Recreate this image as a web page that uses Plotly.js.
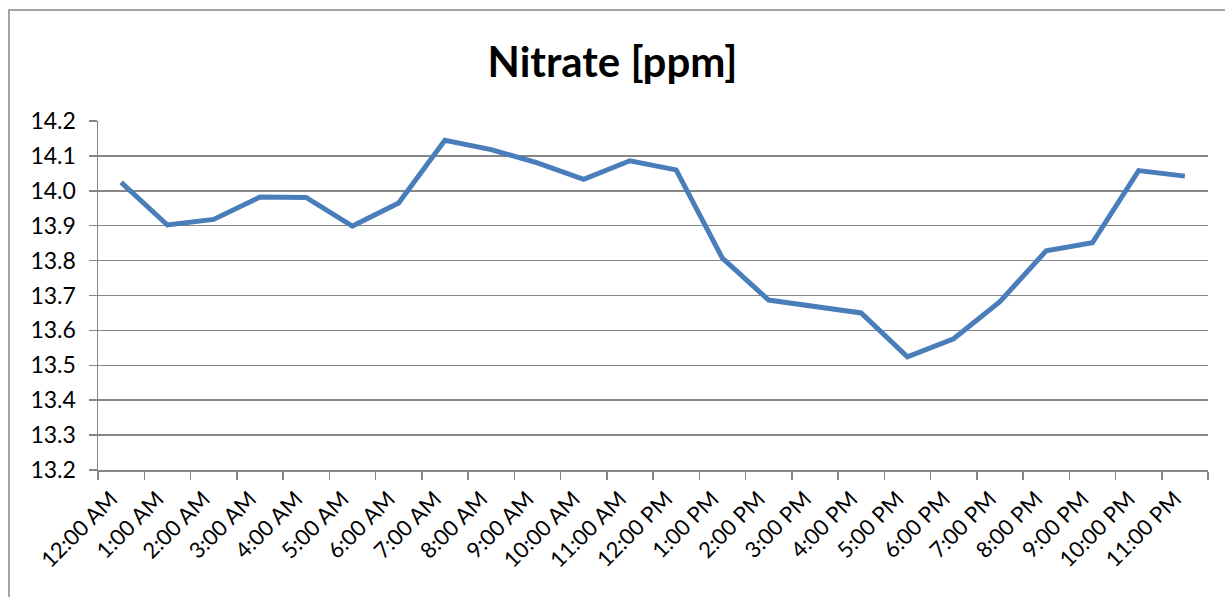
<!DOCTYPE html>
<html>
<head>
<meta charset="utf-8">
<script src="https://cdn.plot.ly/plotly-3.0.1.min.js"></script>
<style>
html, body { margin: 0; padding: 0; background: #ffffff; }
#chart { width: 1225px; height: 597px; }
</style>
</head>
<body>
<div id="chart"></div>
<script>
const hours = ["12:00 AM","1:00 AM","2:00 AM","3:00 AM","4:00 AM","5:00 AM","6:00 AM","7:00 AM","8:00 AM","9:00 AM","10:00 AM","11:00 AM",
               "12:00 PM","1:00 PM","2:00 PM","3:00 PM","4:00 PM","5:00 PM","6:00 PM","7:00 PM","8:00 PM","9:00 PM","10:00 PM","11:00 PM"];
const nitrate = [14.024, 13.902, 13.918, 13.982, 13.981, 13.899, 13.965, 14.145,
                 14.118, 14.080, 14.033, 14.086, 14.060, 13.807, 13.687, 13.667,
                 13.650, 13.524, 13.576, 13.682, 13.828, 13.851, 14.058, 14.042];
const titleText = "Nitrate [ppm]";

const grey = "#868686";
const trace = {
  x: hours,
  y: nitrate,
  type: "scatter",
  mode: "lines",
  line: { color: "#4a7ebb", width: 5 },
  hoverinfo: "x+y"
};

const layout = {
  width: 1225,
  height: 597,
  paper_bgcolor: "#ffffff",
  plot_bgcolor: "#ffffff",
  margin: { l: 98, r: 17, t: 121, b: 127 },
  showlegend: false,
  font: { family: "Lato, 'Open Sans', sans-serif", color: "#000000" },
  title: {
    text: "<b>" + titleText + "</b>",
    font: { family: "Lato, 'Open Sans', sans-serif", size: 42, color: "#000000" },
    x: 0.5, xanchor: "center",
    y: 0.895, yanchor: "middle"
  },
  xaxis: {
    type: "category",
    range: [-0.5, 23.5],
    tickson: "boundaries",
    ticks: "outside",
    ticklen: 8,
    tickwidth: 1.5,
    tickcolor: grey,
    showline: true,
    linecolor: grey,
    linewidth: 1.5,
    showgrid: false,
    tickangle: -45,
    ticklabelshift: -10,
    ticklabelstandoff: 6,
    tickfont: { size: 22, family: "Lato, 'Open Sans', sans-serif", color: "#000000" },
    automargin: false
  },
  yaxis: {
    range: [13.2, 14.2],
    tick0: 13.2,
    dtick: 0.1,
    tickformat: ".1f",
    ticks: "outside",
    ticklen: 8,
    tickwidth: 1.5,
    tickcolor: grey,
    showline: true,
    linecolor: grey,
    linewidth: 1.5,
    showgrid: true,
    gridcolor: grey,
    gridwidth: 1.5,
    zeroline: false,
    tickfont: { size: 23, family: "Lato, 'Open Sans', sans-serif", color: "#000000" },
    ticklabelstandoff: 8,
    automargin: false
  },
  shapes: [{
    type: "rect",
    xref: "paper", yref: "paper",
    x0: -0.0802, x1: 1.05,
    y0: -0.4, y1: 1.318,
    line: { color: grey, width: 1.5 },
    fillcolor: "rgba(0,0,0,0)",
    layer: "below"
  }]
};

Plotly.newPlot("chart", [trace], layout, { displayModeBar: false, staticPlot: true });
</script>
</body>
</html>
